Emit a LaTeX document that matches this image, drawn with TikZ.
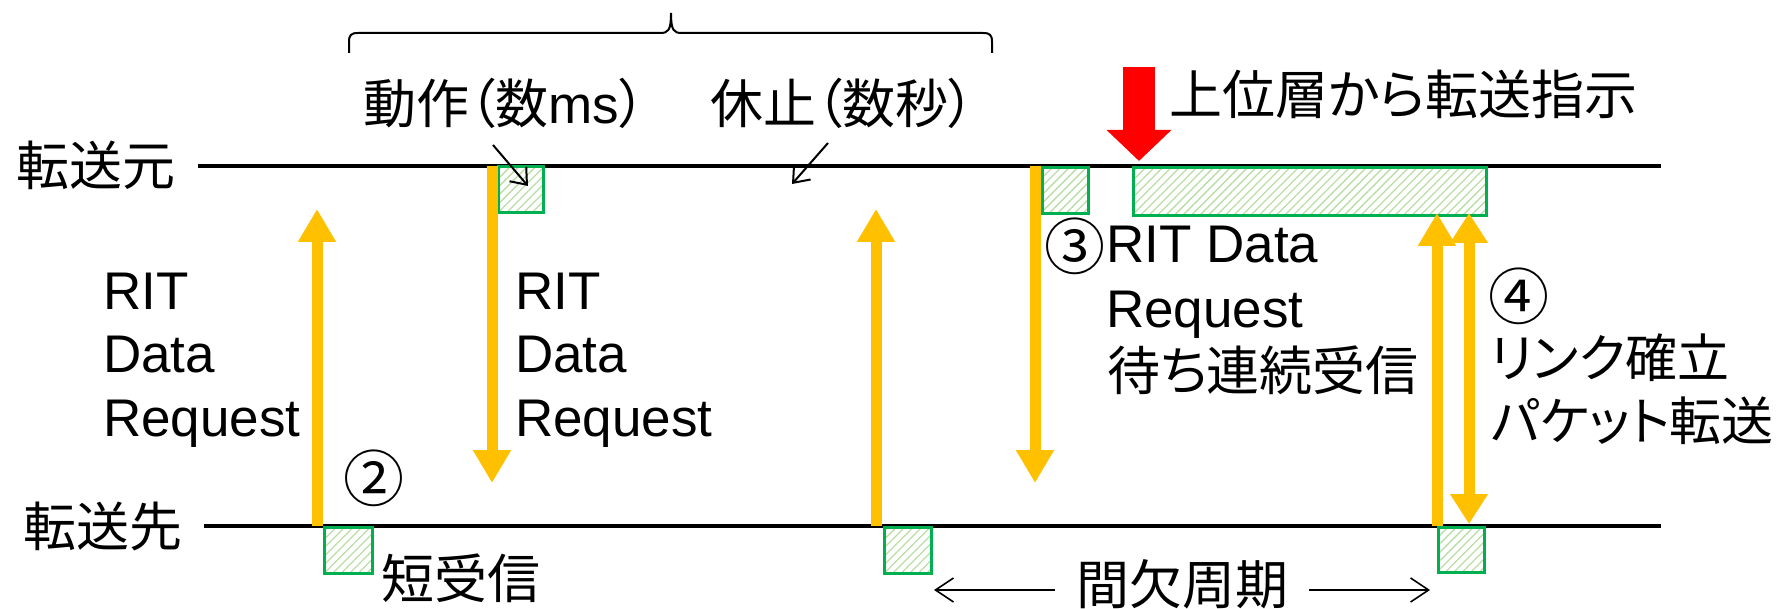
\documentclass[tikz,border=0pt]{standalone}
\usepackage{fontspec}
\setmainfont{Liberation Sans}
\newfontfamily\jp[RawFeature=+palt]{Noto Sans CJK JP}
\newfontfamily\jpf{Noto Sans CJK JP}
\usetikzlibrary{arrows.meta,patterns.meta}
\definecolor{orng}{RGB}{255,192,0}
\definecolor{grn}{RGB}{0,176,80}
\definecolor{hatch}{RGB}{185,222,165}
\definecolor{redarr}{RGB}{255,0,0}
\begin{document}
\begin{tikzpicture}[x=1pt,y=-1pt,
  lbl/.style={inner sep=0pt, anchor=base west, font=\fontsize{53}{64}\selectfont},
  jl/.style={inner sep=0pt, anchor=base west, font=\fontsize{53}{64}\selectfont\jp},
  jls/.style={inner sep=0pt, anchor=base west, font=\fontsize{52}{64}\selectfont\jp},
  num/.style={inner sep=0pt, anchor=center, font=\fontsize{61}{64}\selectfont\jpf},
  box/.style={draw=grn, line width=3pt, pattern={Lines[angle=45,distance=6pt,line width=1.3pt]}, pattern color=hatch, inner sep=0pt, anchor=north west},
  sig/.style={draw=orng, line width=11pt, -{Triangle[width=36pt,length=33pt]}},
  sigd/.style={draw=orng, line width=11pt, {Triangle[width=36pt,length=30pt]}-{Triangle[width=36pt,length=30pt]}},
  timeline/.style={line width=4pt},
  thinarrow/.style={line width=2pt, -{Straight Barb[length=14pt,width=22pt]}},
  spanarrow/.style={line width=1.6pt, -{Straight Barb[length=18pt,width=24pt]}},
  bigarrow/.style={draw=redarr, line width=32pt, -{Triangle[width=63pt,length=31pt]}},
]
\useasboundingbox (0,0) rectangle (1778,609);

% time lines
\node[jl] (src) at (16,186) {転送元};
\node[jl] (dst) at (23,546) {転送先};
\coordinate (tl0) at (198,166);
\coordinate (tl1) at (1661,166);
\coordinate (bl0) at (204,526);
\coordinate (bl1) at (1661,526);
\draw[timeline] (tl0) -- (tl1);
\draw[timeline] (bl0) -- (bl1);

% activity boxes
\node[box, minimum width=45pt, minimum height=46pt] (t1) at (498,166) {};
\node[box, minimum width=46pt, minimum height=46pt] (t2) at (1041,166) {};
\node[box, minimum width=353pt, minimum height=48pt] (bar) at (1132,166) {};
\node[box, minimum width=48pt, minimum height=46pt] (b1) at (323,526) {};
\node[box, minimum width=47pt, minimum height=46pt] (b2) at (883,526) {};
\node[box, minimum width=46pt, minimum height=45pt] (b3) at (1437,526) {};

% orange signal arrows
\coordinate (a1s) at (317,526); \coordinate (a1e) at (317,209);
\coordinate (a2s) at (492,166); \coordinate (a2e) at (492,483);
\coordinate (a3s) at (876,526); \coordinate (a3e) at (876,209);
\coordinate (a4s) at (1035,166); \coordinate (a4e) at (1035,483);
\coordinate (a5s) at (1437,526); \coordinate (a5e) at (1437,213);
\coordinate (a6s) at (1469,213); \coordinate (a6e) at (1469,524);
\draw[sig] (a1s) -- (a1e);
\draw[sig] (a2s) -- (a2e);
\draw[sig] (a3s) -- (a3e);
\draw[sig] (a4s) -- (a4e);
\draw[sig] (a5s) -- (a5e);
\draw[sigd] (a6s) -- (a6e);

% red arrow
\coordinate (rs) at (1139,67);
\coordinate (re) at (1139,161);
\draw[bigarrow] (rs) -- (re);
\node[jl] (upper) at (1169,115) {上位層から転送指示};

% brace
\coordinate (brL) at (349,53);
\coordinate (brR) at (992,53);
\coordinate (brT) at (671,13);
\draw[line width=2pt] (brL) -- (349,42) .. controls (349,35) and (351,33) .. (358,33)
  -- (660,33) .. controls (668,33) and (671,31) .. (brT)
  .. controls (671,31) and (674,33) .. (682,33) -- (983,33)
  .. controls (990,33) and (992,35) .. (992,42) -- (brR);

% top labels
\node[jl] (act) at (363,124) {動作（数{\rmfamily ms}）};
\node[jl] (rest) at (710,124) {休止（数秒）};
\coordinate (p1s) at (493,145); \coordinate (p1e) at (528,186);
\coordinate (p2s) at (828,143); \coordinate (p2e) at (792,184);
\draw[thinarrow] (p1s) -- (p1e);
\draw[thinarrow] (p2s) -- (p2e);

% RIT Data Request labels
\node[lbl] (r1a) at (103,310) {RIT};
\node[lbl] (r1b) at (103,373) {Data};
\node[lbl] (r1c) at (103,437) {Request};
\node[lbl] (r2a) at (515,310) {RIT};
\node[lbl] (r2b) at (515,373) {Data};
\node[lbl] (r2c) at (515,437) {Request};

\node[num] (n2) at (374,478) {②};
\node[jl] (short) at (381,598) {短受信};

\node[num] (n3) at (1075,246) {③};
\node[lbl] (r3a) at (1106,263) {RIT Data};
\node[lbl] (r3b) at (1106,328) {Request};
\node[jl] (r3c) at (1107,391) {待ち連続受信};

\node[num] (n4) at (1519,296) {④};
\node[jls] (l4a) at (1490,378) {リンク確立};
\node[jls] (l4b) at (1491,441) {パケット転送};

% intermittent period
\node[jl] (period) at (1076,604) {間欠周期};
\coordinate (k1s) at (1055,590); \coordinate (k1e) at (934,590);
\coordinate (k2s) at (1309,590); \coordinate (k2e) at (1430,590);
\draw[spanarrow] (k1s) -- (k1e);
\draw[spanarrow] (k2s) -- (k2e);
\end{tikzpicture}
\end{document}
